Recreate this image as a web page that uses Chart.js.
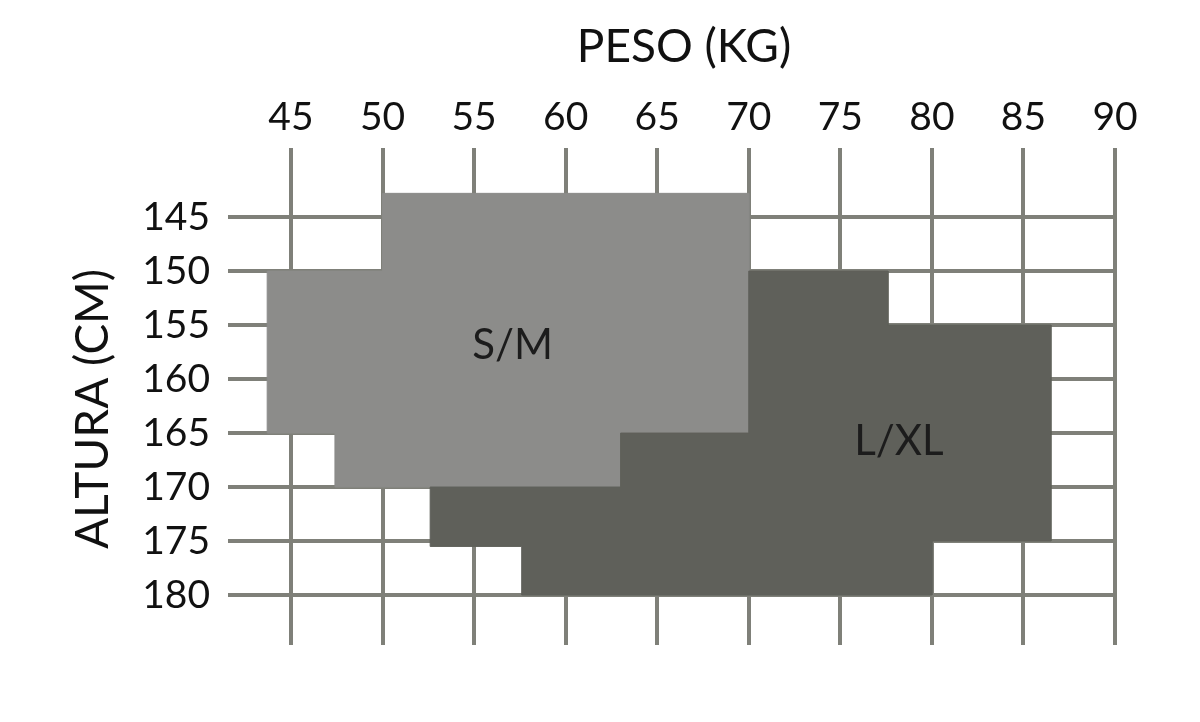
<!DOCTYPE html>
<html>
<head>
<meta charset="utf-8">
<script src="https://cdn.jsdelivr.net/npm/chart.js@4"></script>
<style>
  html, body { margin: 0; padding: 0; background: #ffffff; }
  #wrap { width: 1200px; height: 722px; position: relative; }
</style>
</head>
<body>
<div id="wrap"><canvas id="c" width="1200" height="722"></canvas></div>
<script>
// ---- data ----
const weightTicks = [45, 50, 55, 60, 65, 70, 75, 80, 85, 90];
const heightTicks = [145, 150, 155, 160, 165, 170, 175, 180];
const xTitle = 'PESO (KG)';
const yTitle = 'ALTURA (CM)';
const sizeNames = ['S/M', 'L/XL'];
// outline vertices of each size zone (weight kg, height cm)
const smWeights = [50, 70, 70, 63, 63, 47.4, 47.4, 43.7, 43.7, 50];
const smHeights = [142.8, 142.8, 165, 165, 170, 170, 165, 165, 150, 150];
const lxlWeights = [70, 77.6, 77.6, 86.5, 86.5, 80, 80, 57.6, 57.6, 52.6, 52.6, 63, 63, 70];
const lxlHeights = [150, 150, 155, 155, 175, 175, 180, 180, 175.5, 175.5, 170, 170, 165, 165];
// label anchor (weight, height)
const labelWeights = [57.1, 78.2];
const labelHeights = [156.9, 165.8];

const zip = (xs, ys) => xs.map((x, i) => ({ x: x, y: ys[i] }));
const closeShape = pts => pts.concat([pts[0]]);

const LIGHT = '#8c8c8a';
const DARK = '#5f605a';
const GRID = '#7f8079';
const FONT = 'Lato, "Open Sans", sans-serif';

const zoneLabels = {
  id: 'zoneLabels',
  afterDatasetsDraw(chart) {
    const { ctx, scales: { x, y } } = chart;
    ctx.save();
    ctx.fillStyle = '#1c1c1c';
    ctx.font = '42px ' + FONT;
    ctx.textAlign = 'center';
    ctx.textBaseline = 'middle';
    sizeNames.forEach((n, i) => {
      ctx.fillText(n, x.getPixelForValue(labelWeights[i]), y.getPixelForValue(labelHeights[i]));
    });
    // axis titles
    ctx.fillStyle = '#111';
    ctx.font = '46px ' + FONT;
    ctx.fillText(xTitle, 684, 47);
    ctx.translate(93, 409);
    ctx.rotate(-Math.PI / 2);
    ctx.fillText(yTitle, 0, 0);
    ctx.restore();
  }
};

new Chart(document.getElementById('c'), {
  type: 'scatter',
  data: {
    datasets: [
      {
        label: sizeNames[1],
        data: closeShape(zip(lxlWeights, lxlHeights)),
        showLine: true,
        fill: 'shape',
        backgroundColor: DARK,
        borderColor: DARK,
        borderWidth: 1,
        pointRadius: 0,
        tension: 0
      },
      {
        label: sizeNames[0],
        data: closeShape(zip(smWeights, smHeights)),
        showLine: true,
        fill: 'shape',
        backgroundColor: LIGHT,
        borderColor: LIGHT,
        borderWidth: 1,
        pointRadius: 0,
        tension: 0
      }
    ]
  },
  options: {
    responsive: false,
    animation: false,
    layout: { padding: { left: 0, top: 0, right: 85, bottom: 77 } },
    plugins: { legend: { display: false }, tooltip: { enabled: false } },
    scales: {
      x: {
        type: 'linear',
        position: 'top',
        min: 41.56,
        max: 90,
        afterBuildTicks: s => { s.ticks = weightTicks.map(v => ({ value: v })); },
        afterFit: s => { s.height = 148; },
        ticks: { color: '#111', font: { family: FONT, size: 39 }, padding: 7, maxRotation: 0, autoSkip: false },
        grid: { color: GRID, lineWidth: 4, drawTicks: false },
        border: { display: false }
      },
      y: {
        type: 'linear',
        reverse: true,
        min: 138.6,
        max: 184.63,
        afterBuildTicks: s => { s.ticks = heightTicks.map(v => ({ value: v })); },
        afterFit: s => { s.width = 228; },
        ticks: { color: '#111', font: { family: FONT, size: 39 }, padding: 18, autoSkip: false },
        grid: { color: GRID, lineWidth: 4, drawTicks: false },
        border: { display: false }
      }
    }
  },
  plugins: [zoneLabels]
});
</script>
</body>
</html>
